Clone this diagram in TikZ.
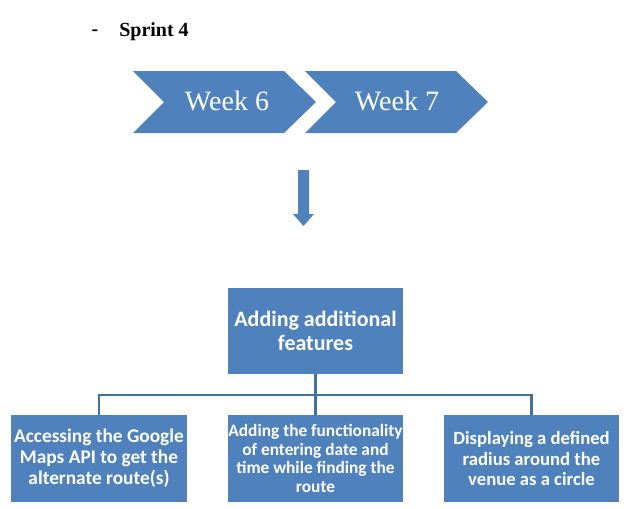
\documentclass[tikz,border=0pt]{standalone}
\usepackage{fontspec}
\setmainfont{Liberation Serif}
\newfontfamily\calib{Carlito}
\definecolor{boxblue}{HTML}{4F81BD}
\definecolor{lineblue}{HTML}{41719C}
\begin{document}
\begin{tikzpicture}[x=0.75pt,y=-0.75pt,
  chev/.style={fill=boxblue,draw=none},
  weektxt/.style={text=white,font=\fontsize{21}{24}\selectfont,inner sep=0pt},
  bluebox/.style={fill=boxblue,draw=none,text=white,align=center,inner sep=0pt,
    minimum height=65pt},
  conn/.style={draw=lineblue,line width=2.2pt}]
\useasboundingbox (0,0) rectangle (631,508);
% heading
\node[inner sep=0pt,font=\fontsize{15}{18}\selectfont\bfseries] (dash) at (95,33) {-};
\node[inner sep=0pt,anchor=west,font=\fontsize{15}{18}\selectfont\bfseries] (sprint) at (119,32) {Sprint 4};
% chevrons
\fill[chev] (133,71) -- (284,71) -- (316,102) -- (284,133) -- (133,133) -- (164,102) -- cycle;
\fill[chev] (305,71) -- (456,71) -- (488,102) -- (456,133) -- (305,133) -- (336,102) -- cycle;
\node[weektxt] (w6) at (227,101) {Week 6};
\node[weektxt] (w7) at (397,101) {Week 7};
% down arrow
\fill[boxblue] (298,170) -- (309,170) -- (309,214) -- (314,214) -- (303.5,226) -- (293,214) -- (298,214) -- cycle;
% boxes
\node[bluebox,minimum width=131.25pt,minimum height=64.5pt,
  font=\calib\bfseries\fontsize{16.5}{18}\selectfont] (top) at (315.5,331)
  {Adding additional\\features};
\node[bluebox,minimum width=132pt,
  font=\calib\bfseries\fontsize{14.5}{15.75}\selectfont] (b1) at (99,458.5)
  {Accessing the Google\\Maps API to get the\\alternate route(s)};
\node[bluebox,minimum width=131.25pt,
  font=\calib\bfseries\fontsize{13}{14}\selectfont] (b2) at (315.5,458.5)
  {Adding the functionality\\of entering date and\\time while finding the\\route};
\node[bluebox,minimum width=131.25pt,
  font=\calib\bfseries\fontsize{14}{15.4}\selectfont] (b3) at (531.5,458.5)
  {Displaying a defined\\radius around the\\venue as a circle};
% connectors
\coordinate (bus) at (315.5,395);
\draw[conn] (top.south) -- (b2.north);
\draw[conn] (b1.north) -- (b1.north |- bus) -- (b3.north |- bus) -- (b3.north);
\end{tikzpicture}
\end{document}
